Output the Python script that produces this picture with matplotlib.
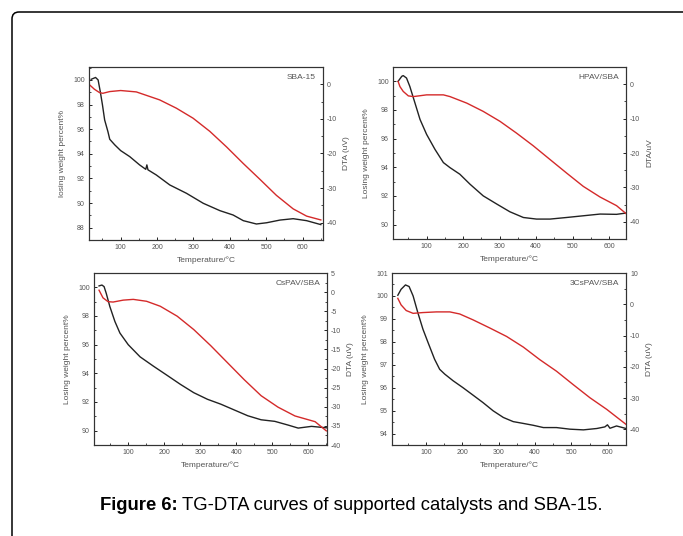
import numpy as np
import matplotlib
matplotlib.use('Agg')
import matplotlib.pyplot as plt
from matplotlib.patches import FancyBboxPatch
from matplotlib.ticker import MultipleLocator

plt.rcParams['font.family'] = ['Liberation Sans', 'DejaVu Sans']
plt.rcParams['axes.unicode_minus'] = False

W, H = 683, 536

# SBA-15
sba_t_tg = [19, 31, 38, 44, 50, 56, 65, 70, 84, 100, 125, 152, 169, 172, 175, 198, 235, 281, 327, 373, 409, 437, 473, 501, 538, 574, 611, 650]
sba_tg = [100.05, 100.2, 100.0, 99.05, 97.97, 96.75, 95.8, 95.18, 94.72, 94.26, 93.77, 93.1, 92.74, 93.1, 92.7, 92.28, 91.47, 90.79, 89.98, 89.38, 89.03, 88.57, 88.3, 88.4, 88.62, 88.73, 88.57, 88.25]
sba_t_dta = [15, 28, 42, 51, 70, 100, 143, 207, 253, 299, 345, 391, 437, 483, 528, 574, 611, 650]
sba_dta = [-0.2, -1.44, -2.4, -2.6, -2.1, -1.8, -2.2, -4.5, -6.9, -9.8, -13.6, -18.1, -22.9, -27.5, -32.1, -36.0, -38.1, -39.2]

# HPAV/SBA
hpav_t_tg = [22, 32, 36, 45, 54, 68, 82, 100, 123, 146, 164, 191, 219, 255, 292, 328, 365, 401, 438, 483, 529, 575, 620, 646]
hpav_tg = [100.0, 100.35, 100.4, 100.23, 99.65, 98.5, 97.34, 96.3, 95.25, 94.33, 93.98, 93.52, 92.82, 92.01, 91.44, 90.9, 90.5, 90.39, 90.39, 90.5, 90.62, 90.74, 90.72, 90.81]
hpav_t_dta = [22, 27, 36, 50, 64, 100, 146, 164, 210, 255, 301, 346, 392, 438, 483, 529, 575, 620, 646]
hpav_dta = [0.8, -0.7, -2.1, -3.4, -3.6, -3.1, -3.1, -3.6, -5.5, -7.9, -10.8, -14.2, -17.9, -21.9, -25.8, -29.7, -32.8, -35.3, -37.6]

# CsPAV/SBA
cs_t_tg = [19, 27, 33, 39, 49, 63, 77, 100, 133, 170, 208, 245, 282, 320, 357, 394, 432, 469, 507, 544, 572, 609, 650]
cs_tg = [100.1, 100.16, 100.05, 99.58, 98.66, 97.62, 96.81, 96.0, 95.15, 94.5, 93.86, 93.23, 92.65, 92.19, 91.85, 91.45, 91.04, 90.76, 90.65, 90.39, 90.18, 90.3, 90.2]
cs_t_dta = [19, 30, 44, 58, 86, 114, 151, 189, 236, 282, 329, 376, 422, 469, 516, 563, 619, 650]
cs_dta = [0.5, -1.5, -2.5, -2.6, -2.1, -1.9, -2.4, -3.7, -6.3, -9.8, -14.0, -18.5, -22.9, -27.1, -30.1, -32.4, -33.9, -36.3]

# 3CsPAV/SBA
cs3_t_tg = [23, 32, 44, 54, 65, 78, 92, 106, 124, 138, 152, 175, 202, 230, 257, 285, 313, 340, 368, 395, 423, 459, 496, 533, 570, 592, 599, 606, 624, 650]
cs3_tg = [100.03, 100.29, 100.48, 100.41, 100.0, 99.27, 98.55, 97.97, 97.24, 96.8, 96.59, 96.3, 96.0, 95.67, 95.35, 94.99, 94.7, 94.52, 94.44, 94.36, 94.26, 94.26, 94.19, 94.16, 94.22, 94.29, 94.38, 94.23, 94.33, 94.22]
cs3_t_dta = [23, 32, 46, 65, 92, 129, 166, 193, 230, 276, 322, 368, 413, 459, 505, 551, 597, 650]
cs3_dta = [1.9, -0.2, -2.0, -2.9, -2.65, -2.44, -2.44, -3.1, -5.0, -7.6, -10.3, -13.7, -17.7, -21.4, -25.7, -29.9, -33.6, -38.4]

panels = [
    # name, tg t, tg, dta t, dta, box px (l, r, top, bottom), xlim, ylim, y2lim, ystep, y2step, ylabel, y2label
    ('SBA-15', sba_t_tg, sba_tg, sba_t_dta, sba_dta, (89, 323, 67, 240), (13, 656), (87, 101.05), (-45, 5), 2, 10,
     'losing weight percent%', 'DTA (uV)'),
    ('HPAV/SBA', hpav_t_tg, hpav_tg, hpav_t_dta, hpav_dta, (393, 626, 67, 239), (8, 646), (89, 101), (-45, 5), 2, 10,
     'Losing weight percent%', 'DTA/uV'),
    ('CsPAV/SBA', cs_t_tg, cs_tg, cs_t_dta, cs_dta, (94, 327, 273, 445), (5, 652), (89, 101), (-40, 5), 2, 5,
     'Losing weight percent%', 'DTA (uV)'),
    ('3CsPAV/SBA', cs3_t_tg, cs3_tg, cs3_t_dta, cs3_dta, (392, 626, 273, 445), (7, 650), (93.5, 101), (-45, 10), 1, 10,
     'Losing weight percent%', 'DTA (uV)'),
]

fig = plt.figure(figsize=(W / 100, H / 100), dpi=100)

# outer frame, open at right and bottom (work in inches)
frame = FancyBboxPatch((0.12, -1.0), 10, (H - 12) / 100 + 1.0, boxstyle='round,pad=0,rounding_size=0.07',
                       transform=fig.dpi_scale_trans, fill=False, edgecolor='black', linewidth=1.1, clip_on=False)
fig.patches.append(frame)

txt_col = '#555555'
for (name, ttg, tg, tdta, dta, box, xl, yl, y2l, ys, y2s, ylab, y2lab) in panels:
    l, r, t, b = box
    ax = fig.add_axes([l / W, 1 - b / H, (r - l) / W, (b - t) / H])
    ax.plot(ttg, tg, color='#222222', lw=1.0)
    ax.set_xlim(*xl)
    ax.set_ylim(*yl)
    ax.xaxis.set_major_locator(MultipleLocator(100))
    ax.xaxis.set_minor_locator(MultipleLocator(50))
    ax.yaxis.set_major_locator(MultipleLocator(ys))
    ax.yaxis.set_minor_locator(MultipleLocator(ys / 2))
    ax.set_xlabel('Temperature/°C', fontsize=6, color=txt_col, labelpad=4)
    ax.set_ylabel(ylab, fontsize=6, color=txt_col, labelpad=5)
    ax.text(0.97, 0.94, name, transform=ax.transAxes, ha='right', va='center', fontsize=6, color=txt_col)

    ax2 = ax.twinx()
    ax2.plot(tdta, dta, color='#d42a2a', lw=1.0)
    ax2.set_ylim(*y2l)
    ax2.yaxis.set_major_locator(MultipleLocator(y2s))
    ax2.yaxis.set_minor_locator(MultipleLocator(y2s / 2))
    ax2.set_ylabel(y2lab, fontsize=6, color=txt_col, labelpad=4)

    for a in (ax, ax2):
        a.tick_params(which='major', direction='in', length=2.5, width=0.6, labelsize=5, labelcolor=txt_col, pad=3)
        a.tick_params(which='minor', direction='in', length=1.5, width=0.5)
        for s in a.spines.values():
            s.set_linewidth(0.8)
            s.set_color('#333333')

cap_y = 1 - 505 / H
cap_bold = fig.text(100 / W, cap_y, 'Figure 6:', fontsize=13.3, fontweight='bold', va='center', ha='left')
fig.canvas.draw()
bb = cap_bold.get_window_extent()
fig.text((bb.x1 + 4) / W, cap_y, 'TG-DTA curves of supported catalysts and SBA-15.', fontsize=13.3,
         va='center', ha='left')

fig.savefig('out.png', dpi=100)
